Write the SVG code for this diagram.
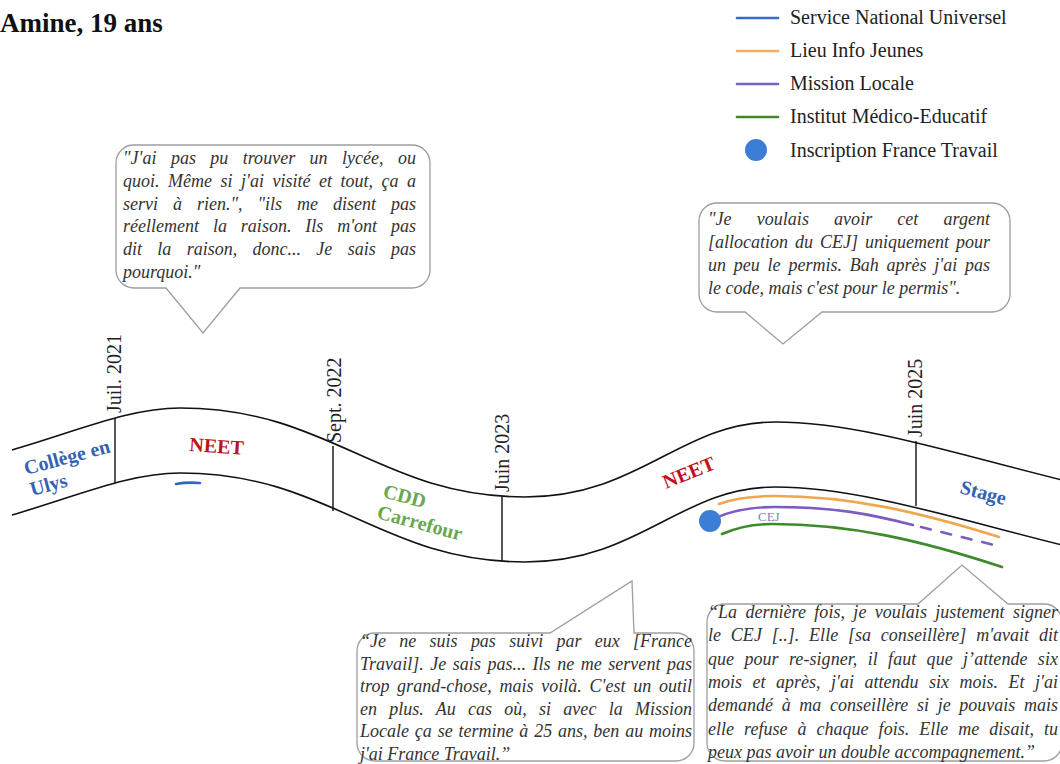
<svg xmlns="http://www.w3.org/2000/svg" width="1060" height="764" viewBox="0 0 1060 764">
<style>
.q{font-family:"Liberation Serif","Times New Roman",serif;font-style:italic;font-size:18px;fill:#333}
.box{fill:#fff;stroke:#9e9e9e;stroke-width:1.3}
.band{fill:none;stroke:#111;stroke-width:1.6}
.tick{stroke:#111;stroke-width:1.4}
.date{font-family:"Liberation Serif","Times New Roman",serif;font-size:20px;fill:#222}
.lab{font-family:"Liberation Serif","Times New Roman",serif;font-size:20px;font-weight:bold}
.leg{font-family:"Liberation Serif","Times New Roman",serif;font-size:20px;fill:#222}
.blue{fill:#3462b4}.red{fill:#c0101a}.green{fill:#6aa84f}
.ln{fill:none;stroke-width:2.6;stroke-linecap:round}
</style>
<rect width="1060" height="764" fill="#fff"/>
<text x="0" y="32" font-family="Liberation Serif, Times New Roman, serif" font-size="27" font-weight="bold" fill="#111">Amine, 19 ans</text>

<g id="legend">
<line class="ln" x1="737" y1="18" x2="778" y2="18" stroke="#3a6cc6"/>
<text class="leg" x="790" y="24">Service National Universel</text>
<line class="ln" x1="737" y1="51" x2="778" y2="51" stroke="#f4ae62"/>
<text class="leg" x="790" y="57">Lieu Info Jeunes</text>
<line class="ln" x1="737" y1="84" x2="778" y2="84" stroke="#7a62bd"/>
<text class="leg" x="790" y="90">Mission Locale</text>
<line class="ln" x1="737" y1="117" x2="778" y2="117" stroke="#44852e"/>
<text class="leg" x="790" y="123">Institut Médico-Educatif</text>
<circle cx="756" cy="150" r="11" fill="#3a7fd5"/>
<text class="leg" x="790" y="157">Inscription France Travail</text>
</g>

<g id="band">
<path id="topcurve" class="band" d="M12,450 C80,430 130,408 180,408 C330,408 380,497 525,497 C640,497 680,422 775,422 C860,422 960,455 1062,480"/>
<path class="band" transform="translate(0,65)" d="M12,450 C80,430 130,408 180,408 C330,408 380,497 525,497 C640,497 680,422 775,422 C860,422 960,455 1062,480"/>
<line class="tick" x1="115" y1="418" x2="115" y2="483"/>
<line class="tick" x1="333" y1="446" x2="333" y2="511"/>
<line class="tick" x1="502" y1="496" x2="502" y2="561"/>
<line class="tick" x1="916" y1="441" x2="916" y2="506"/>
</g>

<g id="dates">
<text class="date" transform="translate(121,413) rotate(-90)">Juil. 2021</text>
<text class="date" transform="translate(341,443) rotate(-90)">Sept. 2022</text>
<text class="date" transform="translate(509,492) rotate(-90)">Juin 2023</text>
<text class="date" transform="translate(922,437) rotate(-90)">Juin 2025</text>
</g>

<g id="periods">
<text class="lab blue" transform="translate(26,475) rotate(-15)">Collège en</text>
<text class="lab blue" transform="translate(32,496) rotate(-15)">Ulys</text>
<text class="lab red" transform="translate(189,451) rotate(4)">NEET</text>
<text class="lab green" transform="translate(382,497) rotate(15)">CDD</text>
<text class="lab green" transform="translate(376,518) rotate(15)">Carrefour</text>
<text class="lab red" transform="translate(666,489) rotate(-22)">NEET</text>
<text class="lab blue" transform="translate(959,493) rotate(15)">Stage</text>
</g>

<g id="connectors">
<path class="ln" stroke="#2f66c6" stroke-width="3" d="M176,484 Q187,482 200,483"/>
<text x="758" y="521" font-family="Liberation Serif, Times New Roman, serif" font-size="13" fill="#8a80b8">CEJ</text>
<path class="ln" stroke="#f0a64e" d="M719,504 C735,498 752,496 775,496 C850,496 920,512 999,537"/>
<path class="ln" stroke="#7d5cc0" d="M710,521 C728,511 748,507 775,507 C835,507 870,514 913,525"/>
<path class="ln" stroke="#7d5cc0" stroke-linecap="butt" stroke-dasharray="10 11" d="M921,527 L1002,547"/>
<path class="ln" stroke="#3d8b2b" d="M722,534 C738,527 752,524 772,524 C850,524 920,540 1002,567"/>
<circle cx="710" cy="521" r="11" fill="#3a7fd5"/>
</g>

<g id="quote1">
<path class="box" d="M134,145 H412 A18,18 0 0 1 430,163 V270 A18,18 0 0 1 412,288 H240 L203,333 L166,288 H134 A18,18 0 0 1 116,270 V163 A18,18 0 0 1 134,145 Z"/>
<text class="q" x="123" y="164" word-spacing="9.8" textLength="293" lengthAdjust="spacing">"J'ai pas pu trouver un lycée, ou</text>
<text class="q" x="123" y="187" word-spacing="4" textLength="293" lengthAdjust="spacing">quoi. Même si j'ai visité et tout, ça a</text>
<text class="q" x="123" y="210" word-spacing="10.5" textLength="293" lengthAdjust="spacing">servi à rien.", "ils me disent pas</text>
<text class="q" x="123" y="232" word-spacing="9.4" textLength="293" lengthAdjust="spacing">réellement la raison. Ils m'ont pas</text>
<text class="q" x="123" y="255" word-spacing="10.8" textLength="293" lengthAdjust="spacing">dit la raison, donc... Je sais pas</text>
<text class="q" x="123" y="278">pourquoi."</text>
</g>

<g id="quote2">
<path class="box" d="M717,203 H992 A18,18 0 0 1 1010,221 V294 A18,18 0 0 1 992,312 H822 L783,344 L745,312 H717 A18,18 0 0 1 699,294 V221 A18,18 0 0 1 717,203 Z"/>
<text class="q" x="708" y="225" word-spacing="20.6" textLength="282" lengthAdjust="spacing">"Je voulais avoir cet argent</text>
<text class="q" x="708" y="248" word-spacing="2.5" textLength="282" lengthAdjust="spacing">[allocation du CEJ] uniquement pour</text>
<text class="q" x="708" y="271" word-spacing="3.3" textLength="282" lengthAdjust="spacing">un peu le permis. Bah après j'ai pas</text>
<text class="q" x="708" y="294">le code, mais c'est pour le permis".</text>
</g>

<g id="quote3">
<path class="box" d="M375,633 H550 L632,581 L634,633 H676 A18,18 0 0 1 694,651 V743 A18,18 0 0 1 676,761 H375 A18,18 0 0 1 357,743 V651 A18,18 0 0 1 375,633 Z"/>
<text class="q" x="360" y="647" word-spacing="8.8" textLength="332" lengthAdjust="spacing">“Je ne suis pas suivi par eux [France</text>
<text class="q" x="360" y="669.5" word-spacing="2" textLength="332" lengthAdjust="spacing">Travail]. Je sais pas... Ils ne me servent pas</text>
<text class="q" x="360" y="692" word-spacing="3.2" textLength="332" lengthAdjust="spacing">trop grand-chose, mais voilà. C'est un outil</text>
<text class="q" x="360" y="714.5" word-spacing="7.75" textLength="332" lengthAdjust="spacing">en plus. Au cas où, si avec la Mission</text>
<text class="q" x="360" y="737" word-spacing="1.3" textLength="332" lengthAdjust="spacing">Locale ça se termine à 25 ans, ben au moins</text>
<text class="q" x="360" y="759.5">j'ai France Travail.”</text>
</g>

<g id="quote4">
<path class="box" d="M725,604 H918 L962,565 L1008,604 H1044 A18,18 0 0 1 1062,622 V743 A18,18 0 0 1 1044,761 H725 A18,18 0 0 1 707,743 V622 A18,18 0 0 1 725,604 Z"/>
<text class="q" x="708" y="618" word-spacing="3.9" textLength="350" lengthAdjust="spacing">“La dernière fois, je voulais justement signer</text>
<text class="q" x="708" y="641.3" word-spacing="5.3" textLength="350" lengthAdjust="spacing">le CEJ [..]. Elle [sa conseillère] m'avait dit</text>
<text class="q" x="708" y="664.6" word-spacing="5.7" textLength="350" lengthAdjust="spacing">que pour re-signer, il faut que j’attende six</text>
<text class="q" x="708" y="688" word-spacing="6" textLength="350" lengthAdjust="spacing">mois et après, j'ai attendu six mois. Et j'ai</text>
<text class="q" x="708" y="711.2" word-spacing="4.1" textLength="350" lengthAdjust="spacing">demandé à ma conseillère si je pouvais mais</text>
<text class="q" x="708" y="734.5" word-spacing="5.5" textLength="350" lengthAdjust="spacing">elle refuse à chaque fois. Elle me disait, tu</text>
<text class="q" x="708" y="758">peux pas avoir un double accompagnement.”</text>
</g>
</svg>
